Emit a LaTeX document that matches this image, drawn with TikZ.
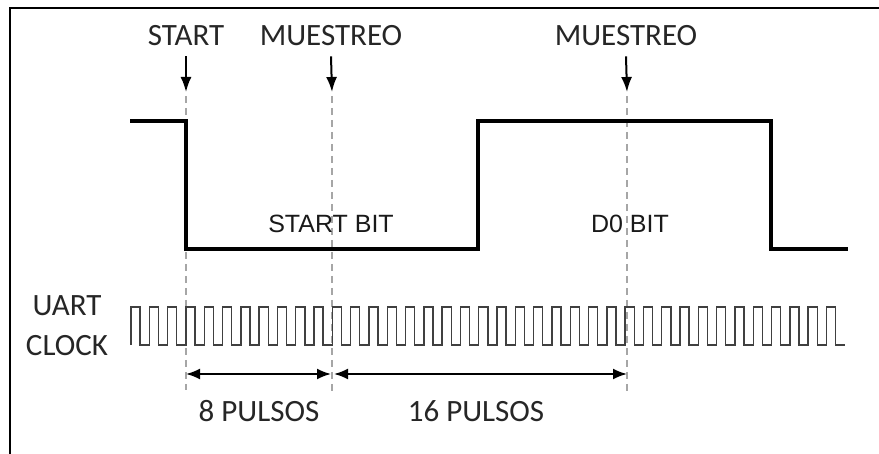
\documentclass[tikz,border=0pt]{standalone}
\usepackage{fontspec}
\setmainfont{Carlito}
\newfontfamily\arialfont{Liberation Sans}
\usetikzlibrary{arrows.meta}
\tikzset{
  lbl/.style={font=\fontsize{31}{36}\selectfont, text=black!85, inner sep=0pt},
  bitlbl/.style={font=\arialfont\fontsize{25}{30}\selectfont, text=black!90, inner sep=0pt},
  marker/.style={line width=2pt, -{Latex[length=15pt,width=11pt]}},
  guide/.style={gray!70, line width=1.3pt, dash pattern=on 7pt off 5pt},
  dim/.style={line width=2pt, {Latex[length=14pt,width=11pt]}-{Latex[length=14pt,width=11pt]}},
  signal/.style={line width=3.2pt},
  clk/.style={black!75, line width=1.4pt}
}
\begin{document}
\begin{tikzpicture}[x=1pt, y=-1pt]
\useasboundingbox (0,0) rectangle (879,454);
% marco
\draw[line width=2pt] (10,454) -- (10,8) -- (879,8);
% etiquetas y marcas
\node[lbl] (start) at (186,36) {START};
\node[lbl] (mA) at (331,36) {MUESTREO};
\node[lbl] (mB) at (626,36) {MUESTREO};
\coordinate (tS) at (186,92);
\coordinate (tA) at (332,92);
\coordinate (tB) at (627,92);
\draw[marker] (start.south) ++(0,10) coordinate (aS) -- (tS);
\draw[marker] (mA.south) ++(0,10) coordinate (aA) -- (tA);
\draw[marker] (mB.south) ++(0,10) coordinate (aB) -- (tB);
% lineas guia
\coordinate (bS) at (186,390);
\coordinate (bA) at (332,395);
\coordinate (bB) at (627,392);
\draw[guide] (186,96) -- (bS);
\draw[guide] (332,96) -- (bA);
\draw[guide] (627,96) -- (bB);
% senal
\draw[signal] (130,121) -- (186,121) -- (186,249) -- (478,249) -- (478,121) -- (771,121) -- (771,249) -- (848,249);
\node[bitlbl] (sbit) at (331,224) {START BIT};
\node[bitlbl] (dbit) at (630,224) {D0 BIT};
% reloj
\node[lbl, align=center] (uart) at (67,326) {UART\\[4pt]CLOCK};
\draw[clk] (131,345) \foreach \i in {0,...,38} { -- ++(0,-38) -- ++(9.15,0) -- ++(0,38) -- ++(9.15,0) };
% cotas
\coordinate (dS) at (186,374);
\coordinate (dA) at (331,374);
\coordinate (dA2) at (334,374);
\coordinate (dB) at (627,374);
\draw[dim] (dS) -- (dA);
\draw[dim] (dA2) -- (dB);
\node[lbl] (p8) at (259,411) {8 PULSOS};
\node[lbl] (p16) at (476,411) {16 PULSOS};
\end{tikzpicture}
\end{document}
